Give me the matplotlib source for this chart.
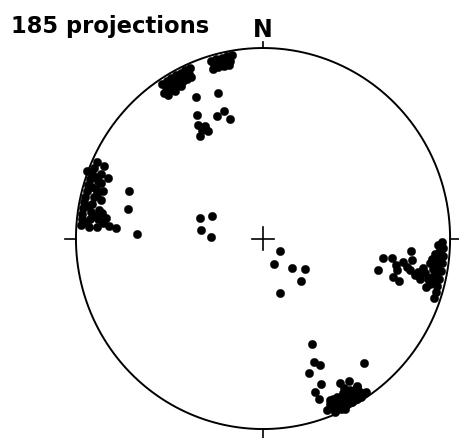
import numpy as np
import matplotlib
matplotlib.use("Agg")
import matplotlib.pyplot as plt

# projected poles, east / north in percent of the net radius
north_e = [-54, -51.5, -49, -46.5, -44, -41.5, -39,
           -53, -50.5, -48, -45.5, -43, -40.5, -38.5,
           -47, -44, -51, -52, -47.5, -42.5, -39.5,
           -50, -45, -42,
           -28, -25, -22, -19, -16.5, -27, -24, -21, -18, -26, -23, -20, -17.5,
           -25.5, -21.5, -18]
north_n = [81.2, 82.8, 84.3, 85.7, 87.0, 88.2, 89.4,
           76.4, 78.1, 79.7, 81.1, 82.5, 83.7, 84.7,
           77.5, 80, 75.5, 79.5, 82.3, 85.0, 86.4,
           80.5, 83.5, 86.5,
           93.4, 94.2, 95.0, 95.6, 96.1, 89.0, 89.8, 90.6, 91.2, 91.4, 92.2, 92.9, 93.4,
           92, 93.5, 94]

nw_e = [-35.8, -24.1, -35.3, -24.6, -20.9, -17.6, -34.8, -31.0, -32.6, -29.4, -33.7]
nw_n = [74.3, 76.4, 64.8, 64.3, 66.9, 62.7, 59.6, 59.1, 57.0, 56.4, 53.8]

west_e = [-88.9, -90.2, -91.4, -92.4, -93.4, -94.2, -95.0, -95.6, -96.2, -96.6, -97.0, -97.2,
          -84.9, -86.6, -88.0, -89.3, -90.4, -91.2, -91.9, -92.5, -92.8,
          -83.0, -85.4, -86.7, -87.7, -88.4, -88.8,
          -86, -85.6, -82.5, -84,
          -94, -91.5, -93.5, -94.5, -90, -88.5, -89.5, -86.5,
          -71.7, -72.2, -78.6, -67.4]
west_n = [40, 37, 34, 31, 28, 25, 22, 19, 16, 13, 10, 7,
          38, 34, 30, 26, 22, 18, 14, 10, 6,
          32, 25, 20, 15, 10, 6,
          13.4, 8.1, 6.5, 11,
          35.5, 27, 17, 8.5, 32.5, 23.5, 12, 29,
          24.9, 15.5, 5.5, 2.4]

mid_e = [-33.7, -27.3, -33.2, -27.8, 9.1, 5.9, 15.5, 22.5, 20.3, 9.1]
mid_n = [10.8, 11.8, 4.5, 0.8, -6.6, -13.4, -15.5, -16.0, -22.3, -28.6]

east_e = [61.3, 64.3, 69.1, 79.0, 71.1, 75.0, 79.5, 69.7, 72.7, 76.8, 78.6, 83.1, 85.7,
          89.3, 92.0, 86.6, 71.5,
          96.4, 96.1, 95.6, 95.0, 94.2, 93.2, 92.3, 91.5,
          92.2, 91.7, 91.1, 90.3, 89.3,
          81, 84, 88, 90.5, 93.5,
          94, 93.5, 93, 92.5, 91.5, 95.5, 87, 85]
east_n = [-16.5, -10.1, -10.1, -6.6, -13.9, -12.2, -11.3, -20.0, -22.2, -14.8, -16.5, -17.4, -15.6,
          -13.0, -18.3, -18.3, -16.5,
          -5, -9, -13, -17, -21, -25, -28, -31,
          -8, -12, -16, -20, -24,
          -19, -21, -21.5, -10.5, -3.5,
          -7, -11, -15, -19, -23, -2, -25.5, -17]

south_e = [26.4, 27.4, 30.5, 24.8, 54.0, 30.9, 27.8, 30.1, 37.6, 41.2, 43.3, 46.2, 50.5,
           34, 37, 40, 43, 46, 49, 52,
           36, 39.5, 43, 46.5, 50,
           38.5, 44.5, 50.5, 55, 41.5, 47.5,
           36, 39, 42, 45, 48, 52.5, 44]
south_n = [-55.4, -64.7, -66.4, -70.4, -65.5, -76.4, -80.4, -84.3, -84.4, -75.7, -78.3, -74.8, -77.8,
           -89.8, -88.6, -87.3, -85.8, -84.3, -82.6, -80.7,
           -84.7, -83.1, -81.3, -79.4, -77.2,
           -91, -87.5, -84, -80.5, -89.5, -86,
           -87, -86, -84, -82.5, -81, -83, -89.5]

title = "185 projections"

pts_e = np.array(north_e + nw_e + west_e + mid_e + east_e + south_e)
pts_n = np.array(north_n + nw_n + west_n + mid_n + east_n + south_n)

fig = plt.figure(figsize=(4.6, 4.38), dpi=100)
ax = fig.add_axes([0, 0, 1, 1])
ax.set_xlim(-140.6, 105.3)
ax.set_ylim(-104.7, 125.2)
ax.axis("off")

# primitive circle
t = np.linspace(0, 2 * np.pi, 400)
ax.plot(100 * np.sin(t), 100 * np.cos(t), color="black", lw=1.4)

# cardinal ticks and centre cross
ax.plot([0, 0], [100, 103], color="black", lw=1.2)
ax.plot([0, 0], [-100, -106], color="black", lw=1.2)
ax.plot([100, 106], [0, 0], color="black", lw=1.2)
ax.plot([-100, -106], [0, 0], color="black", lw=1.2)
ax.plot([-6, 6], [0, 0], color="black", lw=1.2)
ax.plot([0, 0], [-6, 6], color="black", lw=1.2)

ax.plot(pts_e, pts_n, "o", color="black", ms=6.0, mec="black", mew=0.3)

ax.text(-134.5, 107.9, title, fontsize=16.3, fontweight="bold",
        family="DejaVu Sans", va="baseline", ha="left")
ax.text(0, 105.8, "N", fontsize=17, fontweight="bold",
        family="DejaVu Sans", va="baseline", ha="center")

fig.savefig("out.png", dpi=100)
